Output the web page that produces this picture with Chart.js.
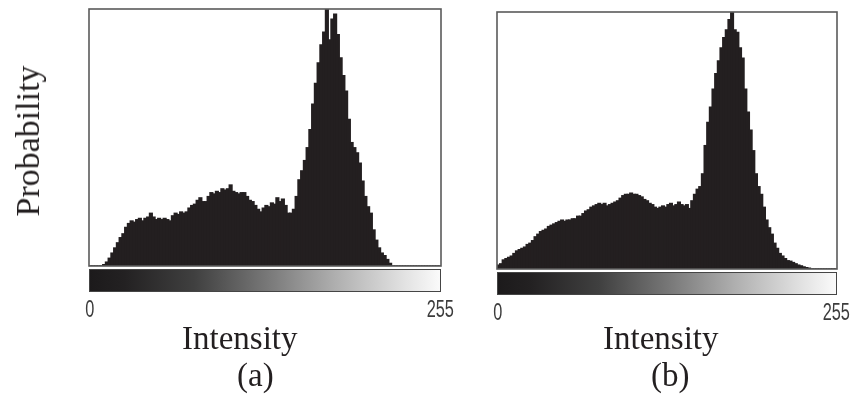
<!DOCTYPE html>
<html>
<head>
<meta charset="utf-8">
<title>Intensity histograms</title>
<script src="https://cdn.jsdelivr.net/npm/chart.js@4.4.1/dist/chart.umd.min.js"></script>
<style>
  html, body { margin: 0; padding: 0; background: #fff; }
  #wrap { position: relative; width: 854px; height: 399px; overflow: hidden; background: #fff; }
  canvas { position: absolute; }
  .lbl {
    position: absolute;
    font-family: "Liberation Serif", "Times New Roman", serif;
    font-size: 33px;
    line-height: 33px;
    color: #231f20;
    white-space: nowrap;
  }
</style>
</head>
<body>
<div id="wrap">
  <canvas id="histA" width="470" height="330" style="left:0px;top:0px"></canvas>
  <canvas id="histB" width="384" height="332" style="left:470px;top:0px"></canvas>
  <div class="lbl" style="left:28px;top:141px;font-size:34px;line-height:34px;transform:translate(-50%,-50%) rotate(-90deg)">Probability</div>
  <div class="lbl" style="left:182px;top:322px">Intensity</div>
  <div class="lbl" style="left:237px;top:359px">(a)</div>
  <div class="lbl" style="left:603px;top:322px">Intensity</div>
  <div class="lbl" style="left:651px;top:359px">(b)</div>
</div>
<script>
// Each bar covers two grey levels of the 0..255 range.
const BIN_WIDTH = 2;
const TICK_VALUES = [0, 255];

// Relative frequency per bin (peak = 100), histogram (a)
const histA = [
  0, 0, 0, 0, 0,
  0.5, 1.5, 3, 5, 7,
  9, 11, 12.5, 15, 16.5,
  17.5, 17, 18, 18.5, 17.5,
  18.5, 19, 20.5, 19, 18,
  18.5, 18, 18.5, 18, 17.5,
  19.5, 20.5, 20, 21, 20.5,
  21, 22.5, 23.5, 24, 25.5,
  26.5, 25, 25, 27, 28.5,
  28, 29, 28.5, 30, 29.5,
  30, 31.5, 29, 28.5, 28,
  28.5, 28.5, 27, 25.5, 25,
  23.5, 22, 21, 22.5, 23.5,
  23, 24.5, 24, 26.5, 25,
  26, 23.5, 20.5, 20.5, 22,
  27, 33.5, 37, 41, 46,
  53, 63, 71, 79, 86,
  91, 100, 88, 96, 98,
  90, 81, 74, 68, 57,
  48, 46, 44, 40, 33,
  27, 23, 20.5, 14, 10,
  7, 5, 4, 2.5, 1,
  0, 0, 0, 0, 0, 0, 0, 0, 0,
  0, 0, 0, 0, 0, 0, 0, 0, 0
];

// Relative frequency per bin (peak = 100), histogram (b)
const histB = [
  1.5, 2, 3.5, 4, 4.5,
  5, 6, 7, 7.5, 8,
  8.5, 9.5, 10, 11, 12.5,
  13.5, 14.5, 15, 15.5, 16.5,
  17, 17.5, 18, 18.5, 19,
  18.5, 19, 19, 19.5, 19.5,
  20.5, 20.5, 21.5, 22.5, 23,
  24, 24.5, 25, 25.5, 25,
  25.5, 24.5, 25, 25.5, 26,
  26.5, 27.5, 28.5, 29, 29,
  29.5, 29, 29, 28.5, 28,
  27, 26.5, 25.5, 25, 24,
  23.5, 24, 24.5, 24, 25,
  25.5, 24.5, 25, 26, 25,
  24.5, 25, 23.5, 26.5, 29,
  31, 32, 37, 48, 57,
  63, 70, 76, 81, 86,
  90, 93, 97, 100, 93,
  92, 86, 82, 70, 61,
  54, 46, 37, 32, 29,
  24, 19, 16, 13.5, 10,
  8, 6, 5, 4, 3.2,
  3, 2.5, 2, 1.5, 1.2,
  0.8, 0.5, 0.3, 0, 0,
  0, 0, 0, 0, 0, 0, 0, 0
];

// Grey ramp shown under each plot (black -> white)
const RAMP_STOPS = [
  [0.00, '#1c1a1b'],
  [0.10, '#232122'],
  [0.30, '#404040'],
  [0.50, '#767676'],
  [0.70, '#afafaf'],
  [0.90, '#e3e3e3'],
  [1.00, '#fbfbfb']
];

// Frame around the plot area, the intensity ramp beneath it and the
// narrow end labels taken from the x scale's ticks.
const frameAndRamp = {
  id: 'frameAndRamp',
  afterDatasetsDraw(chart, args, opts) {
    const { ctx, chartArea: a } = chart;
    ctx.save();
    ctx.strokeStyle = '#5a5a5a';
    ctx.lineWidth = 1.6;
    ctx.strokeRect(a.left, a.top, a.right - a.left, a.bottom - a.top);

    const y0 = a.bottom + opts.gap;
    const h = opts.height;
    const g = ctx.createLinearGradient(a.left, 0, a.right, 0);
    RAMP_STOPS.forEach(([p, c]) => g.addColorStop(p, c));
    ctx.fillStyle = g;
    ctx.fillRect(a.left, y0, a.right - a.left, h);
    ctx.lineWidth = 1;
    ctx.strokeStyle = '#454545';
    ctx.strokeRect(a.left + 0.5, y0 + 0.5, a.right - a.left - 1, h - 1);

    const sx = chart.scales.x;
    ctx.font = "24px 'Liberation Sans', Arial, sans-serif";
    ctx.fillStyle = '#3c3c3c';
    ctx.textAlign = 'center';
    ctx.textBaseline = 'alphabetic';
    sx.ticks.forEach(t => {
      const px = sx.getPixelForValue(t.value);
      ctx.save();
      ctx.translate(px, a.bottom + opts.labelBaseline);
      ctx.scale(opts.squeeze, 1);
      ctx.fillText(t.label !== undefined ? String(t.label) : String(t.value), 0, 0);
      ctx.restore();
    });
    ctx.restore();
  }
};

function makeHistogram(canvasId, values, padding, axisHeight) {
  const points = values.map((v, k) => ({ x: k * BIN_WIDTH + (BIN_WIDTH - 1) / 2, y: v }));
  return new Chart(document.getElementById(canvasId), {
    type: 'bar',
    data: {
      datasets: [{
        data: points,
        backgroundColor: '#231f20',
        borderWidth: 0,
        inflateAmount: 0.7,
        categoryPercentage: 1,
        barPercentage: 1
      }]
    },
    options: {
      responsive: false,
      animation: false,
      devicePixelRatio: 1,
      layout: { padding: padding },
      plugins: {
        legend: { display: false },
        tooltip: { enabled: false },
        frameAndRamp: { gap: 3, height: 23, labelBaseline: 51, squeeze: 0.68 }
      },
      scales: {
        x: {
          type: 'linear',
          min: -0.5,
          max: 255.5,
          offset: false,
          grid: { display: false, drawTicks: false },
          border: { display: false },
          afterBuildTicks: (s) => { s.ticks = TICK_VALUES.map(v => ({ value: v })); },
          afterFit: (s) => { s.height = axisHeight; },
          ticks: { display: false, callback: (v) => String(v) }
        },
        y: { display: false, min: 0, max: 100 }
      }
    },
    plugins: [frameAndRamp]
  });
}

makeHistogram('histA', histA, { left: 89, top: 9, right: 29, bottom: 0 }, 64);
makeHistogram('histB', histB, { left: 27, top: 12, right: 17, bottom: 0 }, 63);
</script>
</body>
</html>
